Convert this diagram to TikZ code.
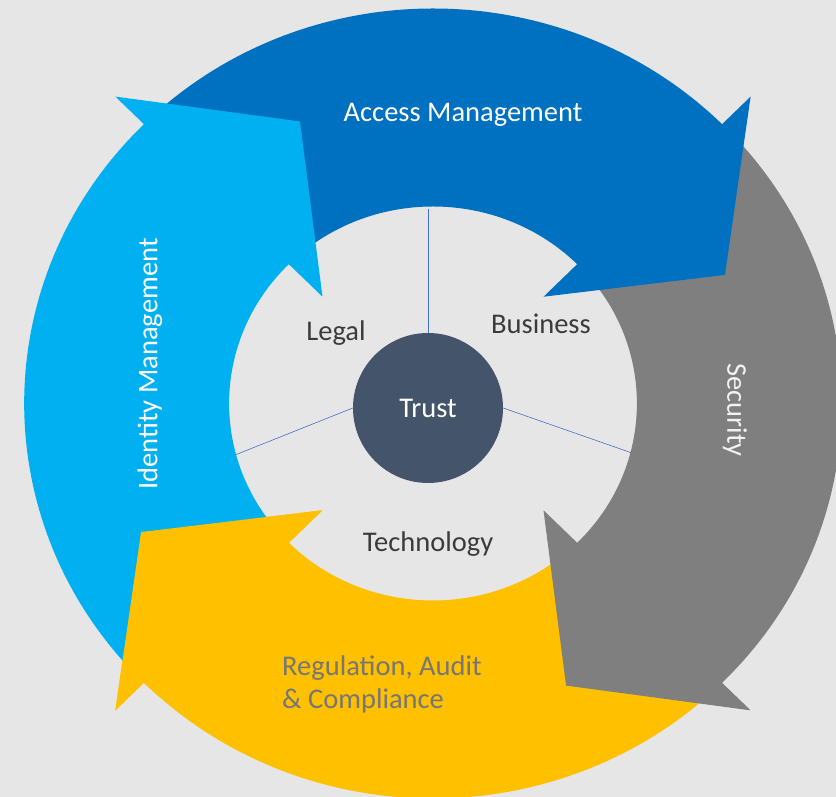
\documentclass[tikz,border=0pt]{standalone}
\usepackage{fontspec}
\setmainfont{Carlito}
\definecolor{bggray}{HTML}{E7E6E6}
\definecolor{accblue}{HTML}{0070C0}
\definecolor{idblue}{HTML}{00B0F0}
\definecolor{secgray}{HTML}{7F7F7F}
\definecolor{regyellow}{HTML}{FFC000}
\definecolor{trustblue}{HTML}{44546A}
\definecolor{spokeblue}{HTML}{4472C4}
\definecolor{darktext}{HTML}{3B3B3B}
\definecolor{regtext}{HTML}{767676}

\begin{document}
\begin{tikzpicture}[x=1pt, y=1pt,
    label/.style={font=\fontsize{28.5}{33}\selectfont, inner sep=0pt},
    spoke/.style={draw=spokeblue, line width=0.6pt}]
        \fill[bggray] (0,0) rectangle (836,797);
        \useasboundingbox (0,0) rectangle (836,797);
        \begin{scope}[shift={(433,393.5)}, xscale=1.035]
        \fill[regyellow] (-45:395) arc[start angle=-45, end angle=-135, radius=395] -- (225:434) -- (204.5:310) -- (225:151) -- (-135:197) arc[start angle=-135, end angle=-45, radius=197] -- cycle;
        \fill[secgray] (45:395) arc[start angle=45, end angle=-45, radius=395] -- (-45:434) -- (-65.5:310) -- (-45:151) -- (-45:197) arc[start angle=-45, end angle=45, radius=197] -- cycle;
        \fill[accblue] (135:395) arc[start angle=135, end angle=45, radius=395] -- (45:434) -- (24.5:310) -- (45:151) -- (45:197) arc[start angle=45, end angle=135, radius=197] -- cycle;
        \fill[idblue] (225:395) arc[start angle=225, end angle=135, radius=395] -- (135:434) -- (114.5:310) -- (135:151) -- (135:197) arc[start angle=135, end angle=225, radius=197] -- cycle;
        \fill[regyellow] (225:434) -- (204.5:310) -- (225:151) -- (225:197) -- (228:197) -- (228:395) -- (225:395) -- cycle;
        \end{scope}
        \node[label, circle, fill=trustblue, text=white, minimum size=150pt] (trust) at (428,389) {Trust};
        \coordinate (topEnd) at (428,588);
        \coordinate (leftEnd) at (235,342);
        \coordinate (rightEnd) at (632,344);
        \draw[spoke] (trust.north) -- (topEnd);
        \draw[spoke] (trust.west) -- (leftEnd);
        \draw[spoke] (trust.east) -- (rightEnd);
        \node[label, text=white] (access) at (463,682) {Access Management};
        \node[label, text=white, rotate=90] (identity) at (150,433) {Identity Management};
        \node[label, text=white!95!black, rotate=-90] (security) at (735,387) {Security};
        \node[label, text=regtext, align=left, anchor=west] (regulation) at (282,112.5) {Regulation, Audit\\\& Compliance};
        \node[label, text=darktext] (legal) at (336,464) {Legal};
        \node[label, text=darktext] (business) at (541,473) {Business};
        \node[label, text=darktext] (technology) at (428,253) {Technology};
    \end{tikzpicture}
\end{document}
